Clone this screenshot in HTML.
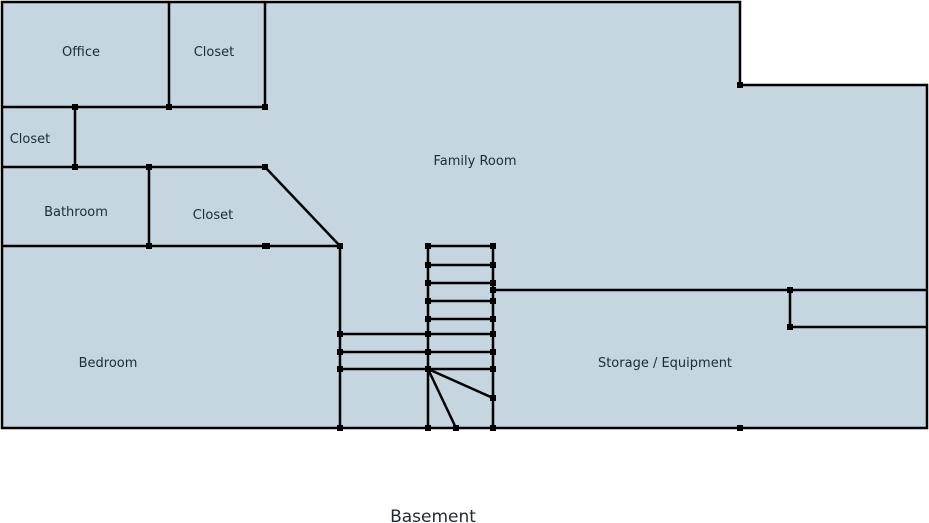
<!DOCTYPE html>
<html><head><meta charset="utf-8"><style>
html,body{margin:0;padding:0;background:#fff;width:929px;height:523px;overflow:hidden}
svg{display:block}
text{font-family:"DejaVu Sans","Liberation Sans",sans-serif;fill:#1e2a36}
</style></head><body>
<svg width="929" height="523" viewBox="0 0 929 523" xmlns="http://www.w3.org/2000/svg">
<polygon points="2,2 740,2 740,85 927,85 927,428 2,428" fill="#c6d6e0" stroke="#000" stroke-width="2.5"/>
<g stroke="#000" stroke-width="2.5" fill="none">
<line x1="2" y1="107" x2="265" y2="107"/>
<line x1="169" y1="2" x2="169" y2="107"/>
<line x1="265" y1="2" x2="265" y2="107"/>
<line x1="75" y1="107" x2="75" y2="167"/>
<line x1="2" y1="167" x2="265" y2="167"/>
<line x1="149" y1="167" x2="149" y2="246"/>
<line x1="265" y1="167" x2="340" y2="246"/>
<line x1="2" y1="246" x2="340" y2="246"/>
<line x1="340" y1="246" x2="340" y2="428"/>
<line x1="428" y1="246" x2="428" y2="428"/>
<line x1="493" y1="246" x2="493" y2="428"/>
<line x1="428" y1="246" x2="493" y2="246"/>
<line x1="428" y1="265" x2="493" y2="265"/>
<line x1="428" y1="283" x2="493" y2="283"/>
<line x1="428" y1="301" x2="493" y2="301"/>
<line x1="428" y1="319" x2="493" y2="319"/>
<line x1="340" y1="334" x2="493" y2="334"/>
<line x1="340" y1="352" x2="493" y2="352"/>
<line x1="340" y1="369" x2="493" y2="369"/>
<line x1="428" y1="369" x2="456" y2="428"/>
<line x1="428" y1="369" x2="493" y2="398"/>
<line x1="493" y1="290" x2="927" y2="290"/>
<line x1="790" y1="290" x2="790" y2="327"/>
<line x1="790" y1="327" x2="927" y2="327"/>
</g>
<g fill="#000">
<rect x="72" y="104" width="6" height="6"/><rect x="166" y="104" width="6" height="6"/><rect x="262" y="104" width="6" height="6"/>
<rect x="72" y="164" width="6" height="6"/><rect x="146" y="164" width="6" height="6"/><rect x="262" y="164" width="6" height="6"/>
<rect x="146" y="243" width="6" height="6"/><rect x="262" y="243" width="8" height="6"/><rect x="337" y="243" width="6" height="6"/>
<rect x="737" y="82" width="6" height="6"/>
<rect x="425" y="243" width="6" height="6"/><rect x="490" y="243" width="6" height="6"/>
<rect x="425" y="262" width="6" height="6"/><rect x="490" y="262" width="6" height="6"/>
<rect x="425" y="280" width="6" height="6"/><rect x="490" y="280" width="6" height="6"/>
<rect x="490" y="287" width="6" height="6"/>
<rect x="425" y="298" width="6" height="6"/><rect x="490" y="298" width="6" height="6"/>
<rect x="425" y="316" width="6" height="6"/><rect x="490" y="316" width="6" height="6"/>
<rect x="337" y="331" width="6" height="6"/><rect x="425" y="331" width="6" height="6"/><rect x="490" y="331" width="6" height="6"/>
<rect x="337" y="349" width="6" height="6"/><rect x="425" y="349" width="6" height="6"/><rect x="490" y="349" width="6" height="6"/>
<rect x="337" y="366" width="6" height="6"/><rect x="425" y="366" width="6" height="6"/><rect x="490" y="366" width="6" height="6"/>
<rect x="490" y="395" width="6" height="6"/>
<rect x="337" y="425" width="6" height="6"/><rect x="425" y="425" width="6" height="6"/><rect x="453" y="425" width="6" height="6"/><rect x="490" y="425" width="6" height="6"/><rect x="737" y="425" width="6" height="6"/>
<rect x="787" y="287" width="6" height="6"/><rect x="787" y="324" width="6" height="6"/>
</g>
<g font-size="13" text-anchor="middle">
<text x="81" y="56">Office</text>
<text x="214" y="56">Closet</text>
<text x="30" y="143">Closet</text>
<text x="76" y="216">Bathroom</text>
<text x="213" y="219">Closet</text>
<text x="475" y="165">Family Room</text>
<text x="108" y="367">Bedroom</text>
<text x="665" y="367">Storage / Equipment</text>
</g>
<text x="433" y="522" font-size="17" text-anchor="middle">Basement</text>
</svg>
</body></html>
